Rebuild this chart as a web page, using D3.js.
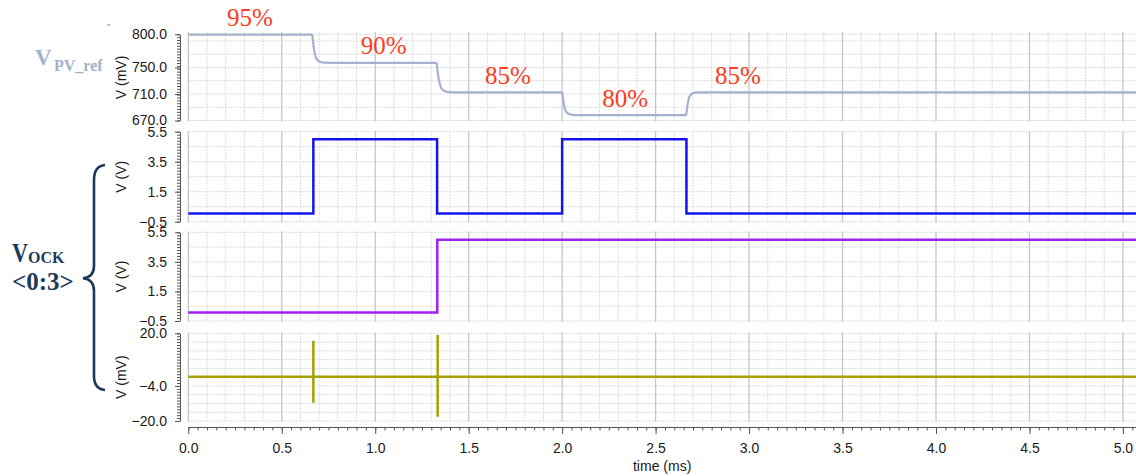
<!DOCTYPE html>
<html>
<head>
<meta charset="utf-8">
<script src="https://cdn.jsdelivr.net/npm/d3@7/dist/d3.min.js"></script>
<style>
  html, body { margin: 0; padding: 0; background: #fff; }
  svg { display: block; }
</style>
</head>
<body>
<svg id="chart" width="1136" height="476"></svg>
<script>
// ---------------- DATA ----------------
const timeTicks = [0.0, 0.5, 1.0, 1.5, 2.0, 2.5, 3.0, 3.5, 4.0, 4.5, 5.0];

// V_PV_ref trace (time in ms, value in mV)
const pvT = [0, 0.663, 0.667, 0.672, 0.678, 0.688, 0.705, 0.73, 0.77,
             1.328, 1.332, 1.337, 1.343, 1.353, 1.370, 1.395, 1.435,
             2.000, 2.004, 2.009, 2.015, 2.025, 2.042, 2.067, 2.107,
             2.663, 2.667, 2.673, 2.681, 2.693, 2.710, 2.740, 5.07];
const pvV = [799.5, 799.5, 790, 778, 769, 762, 758.7, 757.2, 757,
             757, 749, 737, 728, 719, 714.5, 712.8, 712.5,
             712.5, 705, 695, 687, 682, 679.3, 678.2, 678,
             678, 686, 697, 706, 710, 712, 712.5, 712.5];

// percentage annotations
const pctLabels = ["95%", "90%", "85%", "80%", "85%"];
const pctTimes  = [0.33, 1.045, 1.71, 2.337, 2.94];
const pctLevels = [799.5, 757, 712.5, 678, 712.5];

// V_OCK<0> (blue) step trace, V
const blueT = [0, 0.669, 1.331, 2.0, 2.665, 5.07];
const blueV = [0.05, 5.0, 0.05, 5.0, 0.05, 0.05];

// V_OCK<1> (purple) step trace, V
const purpleT = [0, 1.332, 5.07];
const purpleV = [0.07, 5.0, 5.0];

// V_OCK<2:3> (olive), mV : baseline and spikes
const oliveT = [0, 5.07];
const oliveV = [0.2, 0.2];
const spikeT  = [0.669, 1.334];
const spikeHi = [16.6, 19.2];
const spikeLo = [-11.7, -18.1];

// tick labels
const p1Ticks = [800, 750, 710, 670];
const p2Ticks = [5.5, 3.5, 1.5, -0.5];
const p3Ticks = [5.5, 3.5, 1.5, -0.5];
const p4Ticks = [20, -4, -20];

// ---------------- LAYOUT ----------------
const svg = d3.select("#chart");
const tMax = 5.07;
const x = d3.scaleLinear().domain([0, tMax]).range([188.3, 1136]);

const panels = [
  { domain: [670, 800], range: [120.5, 34.3], top: 32, bottom: 121.5, ticks: p1Ticks, grid: [670, 690, 710, 730, 750, 770, 790, 800], title: "V (mV)" },
  { domain: [-0.5, 5.5], range: [221.7, 131.7], top: 131, bottom: 222.5, ticks: p2Ticks, grid: [-0.5, 0.5, 1.5, 2.5, 3.5, 4.5, 5.5], title: "V (V)" },
  { domain: [-0.5, 5.5], range: [321, 232.3], top: 231.5, bottom: 321.7, ticks: p3Ticks, grid: [-0.5, 0.5, 1.5, 2.5, 3.5, 4.5, 5.5], title: "V (V)" },
  { domain: [-20, 20], range: [421, 333.3], top: 332.5, bottom: 421.7, ticks: p4Ticks, grid: [-20, -16, -12, -8, -4, 0, 4, 8, 12, 16, 20], title: "V (mV)" }
];
panels.forEach(p => { p.y = d3.scaleLinear().domain(p.domain).range(p.range); });

const fontSans = "Liberation Sans";
const fontSerif = "Liberation Serif";

const minorT = d3.range(0, 50.7, 1).map(i => i / 10);   // every 0.1 ms gridline
const gridG = svg.append("g");

panels.forEach(p => {
  const g = gridG.append("g");
  g.selectAll("line.h").data(p.grid).enter().append("line")
    .attr("x1", x(0)).attr("x2", 1136)
    .attr("y1", d => p.y(d)).attr("y2", d => p.y(d))
    .attr("stroke", "#dadada").attr("stroke-width", 1)
    .attr("stroke-dasharray", "2,1");
  g.selectAll("line.v").data(minorT.filter(t => Math.abs(t * 2 - Math.round(t * 2)) > 1e-6)).enter().append("line")
    .attr("x1", d => x(d)).attr("x2", d => x(d))
    .attr("y1", p.top).attr("y2", p.bottom)
    .attr("stroke", "#dcdcdc").attr("stroke-width", 1)
    .attr("stroke-dasharray", "2,1");
  g.selectAll("line.vm").data(timeTicks).enter().append("line")
    .attr("x1", d => x(d)).attr("x2", d => x(d))
    .attr("y1", p.top).attr("y2", p.bottom)
    .attr("stroke", "#c6c6c6").attr("stroke-width", 1.3);

  const n = 30;
  const minorVals = d3.range(n + 1).map(i => p.domain[0] + i * (p.domain[1] - p.domain[0]) / n);
  svg.append("g").attr("transform", "translate(180,0)")
    .call(d3.axisLeft(p.y).tickValues(minorVals).tickFormat("").tickSize(3).tickSizeOuter(0))
    .call(a => a.selectAll("line").attr("stroke", "#555"))
    .call(a => a.select(".domain").attr("stroke", "#555"));
  svg.append("g").attr("transform", "translate(180,0)")
    .call(d3.axisLeft(p.y).tickValues(p.ticks).tickFormat(d3.format(".1f")).tickSize(5).tickSizeOuter(0).tickPadding(8))
    .call(a => a.select(".domain").remove())
    .call(a => a.selectAll("line").attr("stroke", "#555"))
    .call(a => a.selectAll("text").attr("font-family", fontSans).attr("font-size", 14).attr("fill", "#1a1a1a"));
  const cy = (p.range[0] + p.range[1]) / 2;
  svg.append("text")
    .attr("transform", `translate(121,${cy}) rotate(-90)`)
    .attr("text-anchor", "middle").attr("dominant-baseline", "central")
    .attr("font-family", fontSans).attr("font-size", 14).attr("fill", "#1a1a1a")
    .text(p.title);
});

// x axis
const xAxisY = 427;
svg.append("g").attr("transform", `translate(0,${xAxisY})`)
  .call(d3.axisBottom(x).tickValues(d3.range(0, 102).map(i => i * 0.05)).tickFormat("").tickSize(3.5).tickSizeOuter(0))
  .call(a => a.selectAll("line").attr("stroke", "#555"))
  .call(a => a.select(".domain").attr("stroke", "#555"));
svg.append("g").attr("transform", `translate(0,${xAxisY})`)
  .call(d3.axisBottom(x).tickValues(timeTicks).tickFormat(d3.format(".1f")).tickSize(7).tickSizeOuter(0).tickPadding(9))
  .call(a => a.select(".domain").remove())
  .call(a => a.selectAll("line").attr("stroke", "#555"))
  .call(a => a.selectAll("text").attr("font-family", fontSans).attr("font-size", 14).attr("fill", "#1a1a1a"));
svg.append("text")
  .attr("x", (x(0) + 1136) / 2).attr("y", 471)
  .attr("text-anchor", "middle")
  .attr("font-family", fontSans).attr("font-size", 14).attr("fill", "#1a1a1a")
  .text("time (ms)");

// ---------------- TRACES ----------------
const P1 = panels[0], P2 = panels[1], P3 = panels[2], P4 = panels[3];

const pvData = pvT.map((t, i) => [t, pvV[i]]);
svg.append("path")
  .attr("d", d3.line().x(d => x(d[0])).y(d => P1.y(d[1])).curve(d3.curveMonotoneX)(pvData))
  .attr("fill", "none").attr("stroke", "#a3b1cc").attr("stroke-width", 2.2);

const blueData = blueT.map((t, i) => [t, blueV[i]]);
svg.append("path")
  .attr("d", d3.line().x(d => x(d[0])).y(d => P2.y(d[1])).curve(d3.curveStepAfter)(blueData))
  .attr("fill", "none").attr("stroke", "#1414f0").attr("stroke-width", 2.5);

const purpleData = purpleT.map((t, i) => [t, purpleV[i]]);
svg.append("path")
  .attr("d", d3.line().x(d => x(d[0])).y(d => P3.y(d[1])).curve(d3.curveStepAfter)(purpleData))
  .attr("fill", "none").attr("stroke", "#a022ee").attr("stroke-width", 2.5);

const oliveData = oliveT.map((t, i) => [t, oliveV[i]]);
svg.append("path")
  .attr("d", d3.line().x(d => x(d[0])).y(d => P4.y(d[1]))(oliveData))
  .attr("fill", "none").attr("stroke", "#a89f00").attr("stroke-width", 2.5);
svg.selectAll("line.spike").data(spikeT).enter().append("line")
  .attr("x1", d => x(d)).attr("x2", d => x(d))
  .attr("y1", (d, i) => P4.y(spikeHi[i])).attr("y2", (d, i) => P4.y(spikeLo[i]))
  .attr("stroke", "#a89f00").attr("stroke-width", 2.5);

// percentage annotations
svg.selectAll("text.pct").data(pctLabels).enter().append("text")
  .attr("x", (d, i) => x(pctTimes[i]))
  .attr("y", (d, i) => P1.y(pctLevels[i]) - 8.5)
  .attr("text-anchor", "middle")
  .style("font-family", "'Liberation Serif', serif").style("font-size", "25px").attr("fill", "#ff3b1e")
  .text(d => d);

// ---------------- LEFT LABELS ----------------
svg.append("line").attr("x1", 107).attr("x2", 110.5).attr("y1", 25).attr("y2", 25)
  .attr("stroke", "#888").attr("stroke-width", 1);

const pvLab = svg.append("text").style("font-family", "'Liberation Serif', serif").attr("font-weight", "bold").attr("fill", "#a3b1cc");
pvLab.append("tspan").attr("x", 35).attr("y", 65).attr("font-size", 23).text("V");
pvLab.append("tspan").attr("x", 54).attr("y", 70.7).attr("font-size", 16).text("PV_ref");

const ockColor = "#1d3a5a";
const ockLab = svg.append("text").style("font-family", "'Liberation Serif', serif").attr("font-weight", "bold").attr("fill", ockColor);
ockLab.append("tspan").attr("x", 12).attr("y", 262).attr("font-size", 28)
  .attr("textLength", 16).attr("lengthAdjust", "spacingAndGlyphs").text("V");
ockLab.append("tspan").attr("x", 28).attr("y", 263.3).attr("font-size", 16).text("OCK");
svg.append("text").attr("x", 12).attr("y", 290)
  .style("font-family", "'Liberation Serif', serif").attr("font-weight", "bold").attr("font-size", 25).attr("fill", ockColor)
  .text("<0:3>");

svg.append("path")
  .attr("d", "M105,165 Q94,166 94,180 L94,266 Q94,277 83,278.3 Q94,279.5 94,291 L94,376 Q94,389 105,390")
  .attr("fill", "none").attr("stroke", ockColor).attr("stroke-width", 2.6);
</script>
</body>
</html>
